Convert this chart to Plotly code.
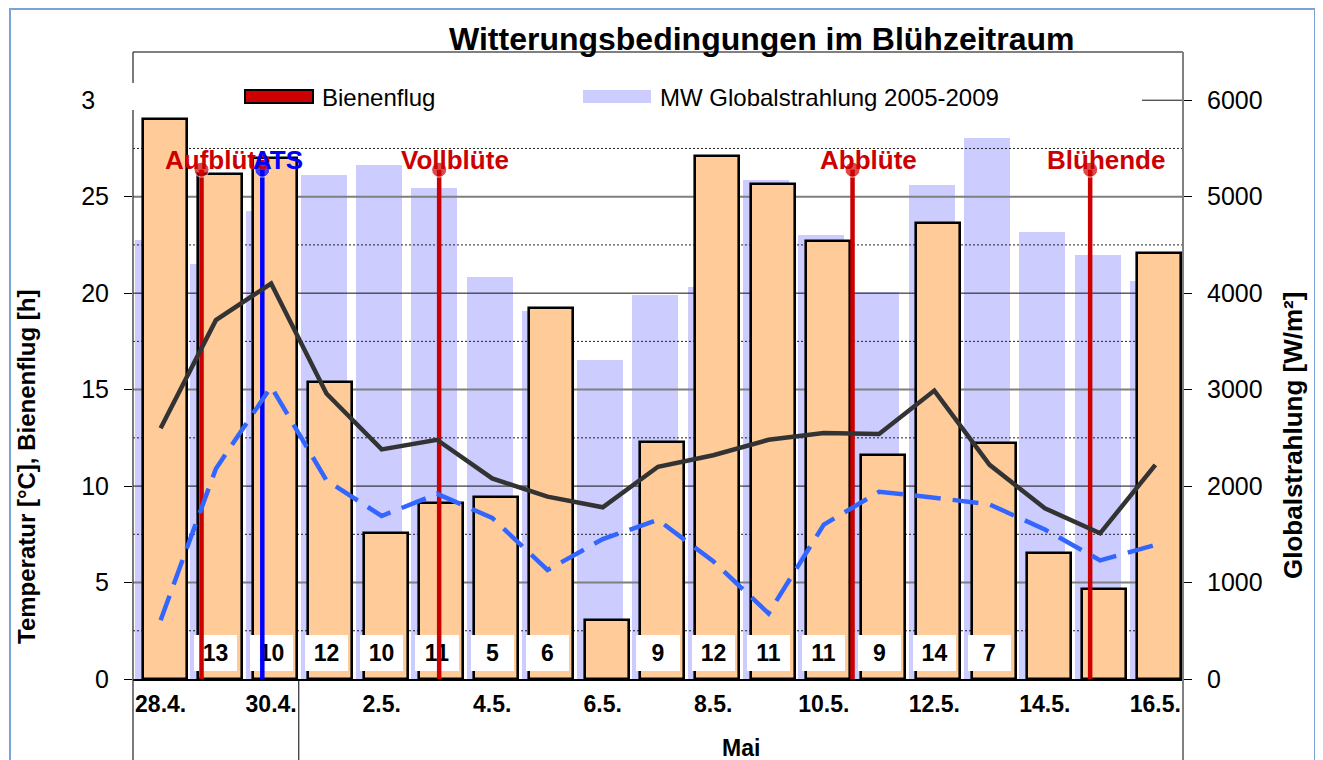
import plotly.graph_objects as go

# ---------------- data ----------------
days = ["28.4.", "29.4.", "30.4.", "1.5.", "2.5.", "3.5.", "4.5.", "5.5.", "6.5.", "7.5.",
        "8.5.", "9.5.", "10.5.", "11.5.", "12.5.", "13.5.", "14.5.", "15.5.", "16.5."]
globalstrahlung = [5810, 5240, 5396, 3081, 1510, 1827, 1889, 3841, 611, 2453,
                   5427, 5127, 4542, 2321, 4732, 2449, 1303, 933, 4418]
mw_globalstrahlung = [4549, 4300, 4850, 5229, 5326, 5085, 4169, 3813, 3306, 3979,
                      4062, 5171, 4608, 4013, 5119, 5613, 4629, 4394, 4124]
temp_max = [13.0, 18.6, 20.5, 14.8, 11.9, 12.4, 10.4, 9.45, 8.9, 11.0,
            11.6, 12.4, 12.75, 12.7, 14.95, 11.1, 8.85, 7.55, 11.1]
temp_min = [3.05, 10.9, 15.15, 10.3, 8.45, 9.6, 8.35, 5.65, 7.25, 8.25,
            6.1, 3.4, 8.0, 9.7, 9.4, 9.05, 7.75, 6.15, 6.95]
bienenflug_h = [None, 13, 10, 12, 10, 11, 5, 6, None, 9,
                12, 11, 11, 9, 14, 7, None, None, None]
event_names = ["Aufblüte", "ATS", "Vollblüte", "Abblüte", "Blühende"]
event_pos = [0.74, 1.84, 5.04, 12.52, 16.82]   # position in days (category units)
event_level = 26.4                               # height of event marker [left axis]

left_ticks = [0, 5, 10, 15, 20, 25, 30]
right_ticks = [0, 1000, 2000, 3000, 4000, 5000, 6000]
x_tick_idx = list(range(0, len(days), 2))

# ---------------- layout helpers (page pixel coordinates) ----------------
FONT = "Liberation Sans, Arial, sans-serif"
OFF = 8                       # page body margin
FIG_W, FIG_H = 1323 - OFF, 760 - OFF
L, R, T, B = 133, 1183, 52, 679   # plot area in page pixels
W_PX, H_PX = R - L, B - T


def px(xp):
    return (xp - L) / W_PX


def py(yp):
    return (B - yp) / H_PX


x = list(range(len(days)))
fig = go.Figure()

# --- base subplot (x, y): MW bars + grid lines drawn above them ---
fig.add_trace(go.Bar(x=x, y=mw_globalstrahlung, name="MW Globalstrahlung 2005-2009",
                     marker=dict(color="#CCCCFF", line=dict(width=0)),
                     width=0.832, offset=-0.463, yaxis="y", showlegend=False))


def grid_trace(levels, color, width, dash):
    gx, gy = [], []
    for lv in levels:
        gx += [-0.5, 18.5, None]
        gy += [lv, lv, None]
    return go.Scatter(x=gx, y=gy, mode="lines", yaxis="y", showlegend=False,
                      hoverinfo="skip", line=dict(color=color, width=width, dash=dash))


fig.add_trace(grid_trace([500 + 1000 * k for k in range(6)], "#222222", 1, "2px,2px"))
fig.add_trace(grid_trace([1000, 3000, 5000], "#7f7f7f", 2, "solid"))
fig.add_trace(grid_trace([2000, 4000, 6000], "#111111", 1, "solid"))

# --- subplot (x, y2): daily Globalstrahlung bars ---
fig.add_trace(go.Bar(x=x, y=globalstrahlung, name="Globalstrahlung",
                     marker=dict(color="#FFCC99", line=dict(color="black", width=2.6)),
                     width=0.796, offset=-0.326, yaxis="y2", showlegend=False))

# --- subplot (x, y3): label boxes, event lines, temperature lines ---
bx = [i for i, h in enumerate(bienenflug_h) if h is not None]
bt = [str(bienenflug_h[i]) for i in bx]
fig.add_trace(go.Bar(x=bx, y=[1.87] * len(bx), base=0.41, width=0.78,
                     marker=dict(color="white", line=dict(width=0)),
                     text=bt, textposition="inside", insidetextanchor="middle",
                     constraintext="none",
                     insidetextfont=dict(family=FONT, size=23, color="black", weight="bold"),
                     yaxis="y3", showlegend=False, hoverinfo="skip", name="Bienenflug"))

event_colors = ["#CC0000", "#0000FF", "#CC0000", "#CC0000", "#CC0000"]
for name, pos, col in zip(event_names, event_pos, event_colors):
    fig.add_trace(go.Scatter(x=[pos, pos], y=[0, event_level], mode="lines+markers",
                             line=dict(color=col, width=4.5),
                             marker=dict(size=[0, 15], color=col),
                             yaxis="y3", showlegend=False, name=name))

fig.add_trace(go.Scatter(x=x, y=temp_max, mode="lines", name="Temperatur max",
                         line=dict(color="#333333", width=4.5), yaxis="y3", showlegend=False))
fig.add_trace(go.Scatter(x=x, y=temp_min, mode="lines", name="Temperatur min",
                         line=dict(color="#3366FF", width=4.5, dash="26px,12px"),
                         yaxis="y3", showlegend=False))

# ---------------- annotations ----------------
ann = []
ann.append(dict(text="<b>Witterungsbedingungen im Blühzeitraum</b>", x=px(761.5), y=py(39),
                xref="paper", yref="paper", showarrow=False, xanchor="center", yanchor="middle",
                font=dict(family=FONT, size=32, color="black")))
for name, pos, col in zip(event_names, event_pos, event_colors):
    ann.append(dict(text="<b>%s</b>" % name, x=pos, y=26.92, xref="x", yref="y3", xshift=16,
                    showarrow=False, xanchor="center", yanchor="middle",
                    font=dict(family=FONT, size=26, color=col)))
ann.append(dict(text="<b>Temperatur [°C], Bienenflug [h]</b>", x=px(27), y=py(467),
                xref="paper", yref="paper", showarrow=False, textangle=-90,
                xanchor="center", yanchor="middle", font=dict(family=FONT, size=24, color="black")))
ann.append(dict(text="<b>Globalstrahlung [W/m²]</b>", x=px(1293), y=py(436),
                xref="paper", yref="paper", showarrow=False, textangle=-90,
                xanchor="center", yanchor="middle", font=dict(family=FONT, size=26, color="black")))
ann.append(dict(text="<b>Mai</b>", x=px(741), y=py(748), xref="paper", yref="paper",
                showarrow=False, xanchor="center", yanchor="middle",
                font=dict(family=FONT, size=23, color="black")))
# legend texts
ann.append(dict(text="Bienenflug", x=px(320), y=py(97), xref="paper", yref="paper",
                showarrow=False, xanchor="left", yanchor="middle",
                font=dict(family=FONT, size=24, color="black")))
ann.append(dict(text="MW Globalstrahlung 2005-2009", x=px(658), y=py(97), xref="paper",
                yref="paper", showarrow=False, xanchor="left", yanchor="middle",
                font=dict(family=FONT, size=24, color="black")))

# ---------------- shapes ----------------
FRAME_C = "#7BA3D8"
FRAME = dict(color=FRAME_C, width=2)
shapes = []
# outer frame
shapes.append(dict(type="line", xref="paper", yref="paper", x0=px(9), x1=px(1315),
                   y0=py(9), y1=py(9), line=FRAME, layer="above"))
shapes.append(dict(type="line", xref="paper", yref="paper", x0=px(1315), x1=px(1315),
                   y0=py(9), y1=py(780), line=FRAME, layer="above"))
shapes.append(dict(type="rect", xref="paper", yref="paper", x0=px(9), x1=px(11),
                   y0=py(780), y1=py(8), fillcolor=FRAME_C, line=dict(width=0), layer="above"))
# plot borders
shapes.append(dict(type="line", xref="paper", yref="paper", x0=0, x1=1, y0=1, y1=1,
                   line=dict(color="#808080", width=2), layer="above"))
shapes.append(dict(type="line", xref="paper", yref="paper", x0=1, x1=1, y0=1, y1=py(770),
                   line=dict(color="#808080", width=2), layer="above"))
shapes.append(dict(type="line", xref="paper", yref="paper", x0=0, x1=0, y0=1, y1=py(770),
                   line=dict(color="#333333", width=1.3), layer="above"))
# month separator (April | Mai)
shapes.append(dict(type="line", xref="x", yref="paper", x0=2.5, x1=2.5, y0=0, y1=py(770),
                   line=dict(color="black", width=1), layer="above"))
# legend background box (covers grid / axis like the original)
shapes.append(dict(type="rect", xref="paper", yref="paper", x0=px(95), x1=px(1142),
                   y0=py(110), y1=py(83), line=dict(width=0), fillcolor="white", layer="above"))
# legend symbols
shapes.append(dict(type="rect", xref="paper", yref="paper", x0=px(245), x1=px(313),
                   y0=py(103), y1=py(90), fillcolor="#CC0000",
                   line=dict(color="black", width=2), layer="above"))
shapes.append(dict(type="rect", xref="paper", yref="paper", x0=px(583), x1=px(651),
                   y0=py(103), y1=py(90), fillcolor="#CCCCFF",
                   line=dict(width=0), layer="above"))

fig.update_layout(
    width=FIG_W, height=FIG_H, autosize=False,
    margin=dict(l=L - OFF, r=FIG_W - (R - OFF), t=T - OFF, b=FIG_H - (B - OFF), pad=0),
    paper_bgcolor="white", plot_bgcolor="white",
    barmode="overlay", bargap=0, showlegend=False,
    font=dict(family=FONT, color="black"),
    xaxis=dict(range=[-0.5, 18.5], tickvals=x_tick_idx, ticktext=[days[i] for i in x_tick_idx],
               tickfont=dict(family=FONT, size=23, color="black", weight="bold"),
               showgrid=False, zeroline=False, showline=True, linecolor="black", linewidth=1.5,
               ticks="", ticklabelstandoff=4),
    yaxis=dict(side="right", range=[0, 6500], tickvals=right_ticks,
               ticktext=[str(v) for v in right_ticks],
               tickfont=dict(family=FONT, size=25, color="black"),
               ticks="outside", ticklen=8, tickcolor="black", tickwidth=1.3,
               showgrid=False, zeroline=False, showline=False, ticklabelstandoff=10),
    yaxis2=dict(overlaying="y", range=[0, 6500], visible=False),
    yaxis3=dict(overlaying="y", side="left", range=[0, 32.5], tickvals=left_ticks,
                ticktext=[str(v) for v in left_ticks],
                tickfont=dict(family=FONT, size=25, color="black"),
                ticks="outside", ticklen=8, tickcolor="black", tickwidth=1.3,
                showgrid=False, zeroline=False, showline=False, ticklabelstandoff=10),
    annotations=ann, shapes=shapes,
)

fig.write_html("out.html")
